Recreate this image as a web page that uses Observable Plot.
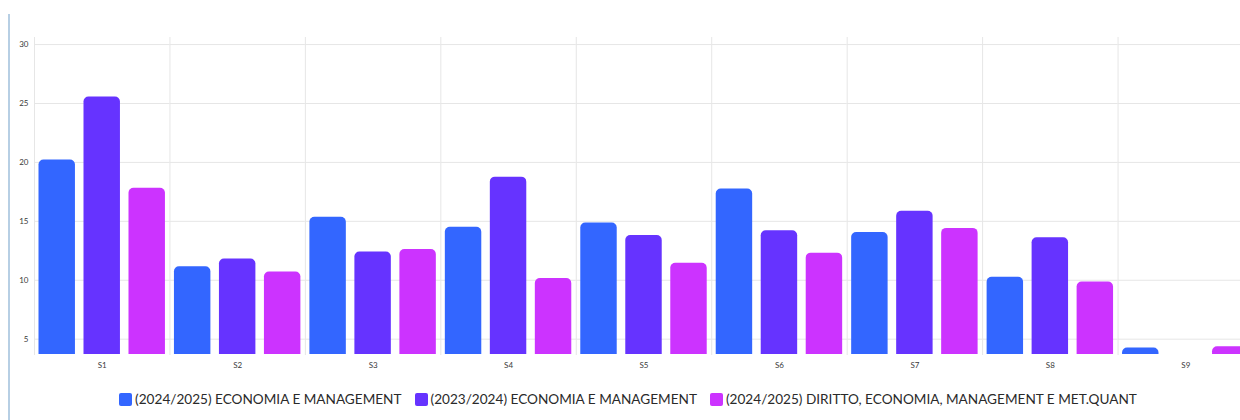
<!DOCTYPE html>
<html>
<head>
<meta charset="utf-8">
<script src="https://cdn.jsdelivr.net/npm/d3@7"></script>
<script src="https://cdn.jsdelivr.net/npm/@observablehq/plot@0.6"></script>
<style>
  html, body { margin: 0; padding: 0; background: #fff; overflow: hidden; }
  #wrap { position: relative; width: 1256px; height: 420px; font-family: Lato, "Open Sans", sans-serif; }
  #edge { position: absolute; left: 8px; top: 14px; width: 2px; height: 406px; background: #b7cfe4; }
  #chart svg { display: block; }
  #legend { display: flex; justify-content: center; gap: 13px; margin-top: 15px; font-size: 13.6px; color: #2a2a2a; }
  .item { display: flex; align-items: center; gap: 3px; white-space: nowrap; }
  .sw { width: 13px; height: 13px; border-radius: 2px; display: inline-block; }
</style>
</head>
<body>
<div id="wrap">
  <div id="chart"></div>
  <div id="legend"></div>
  <div id="edge"></div>
</div>
<script>
const categories = ["S1", "S2", "S3", "S4", "S5", "S6", "S7", "S8", "S9"];
const series = [
  "(2024/2025) ECONOMIA E MANAGEMENT",
  "(2023/2024) ECONOMIA E MANAGEMENT",
  "(2024/2025) DIRITTO, ECONOMIA, MANAGEMENT E MET.QUANT"
];
const values2425EM  = [20.2, 11.15, 15.35, 14.5, 14.85, 17.75, 14.05, 10.25, 4.25];
const values2324EM  = [25.55, 11.8, 12.4, 18.75, 13.8, 14.2, 15.85, 13.6, null];
const values2425DEM = [17.8, 10.7, 12.6, 10.15, 11.45, 12.3, 14.4, 9.85, 4.35];
const colors = ["#3366ff", "#6633ff", "#cc33ff"];
const yTicks = [5, 10, 15, 20, 25, 30];
const yDomain = [3.7, 30.6];

const allValues = [values2425EM, values2324EM, values2425DEM];
const data = [];
categories.forEach((c, i) => {
  series.forEach((s, j) => {
    const v = allValues[j][i];
    if (v != null) data.push({cat: c, series: s, value: v});
  });
});

const chart = Plot.plot({
  width: 1256,
  height: 376,
  marginTop: 37,
  marginBottom: 22,
  marginLeft: 34,
  marginRight: 3,
  style: {fontFamily: "Lato, 'Open Sans', sans-serif", fontSize: "8px", color: "#3a3a3a", background: "#fff"},
  fx: {domain: categories, padding: 0, round: false, label: null, axis: "bottom", tickSize: 0, tickPadding: 8},
  x: {domain: series, axis: null, round: false, paddingInner: 0.19, paddingOuter: 0.1},
  y: {domain: yDomain, ticks: yTicks, tickSize: 0, tickPadding: 6, label: null},
  color: {domain: series, range: colors},
  marks: [
    Plot.frame({anchor: "left", stroke: "#e6e6e6"}),
    Plot.gridY(yTicks, {stroke: "#e6e6e6", strokeOpacity: 1}),
    Plot.barY(data, {fx: "cat", x: "series", y: "value", fill: "series", clip: true, rx: 5, ry: 5})
  ]
});
document.getElementById("chart").appendChild(chart);

const legend = document.getElementById("legend");
series.forEach((s, j) => {
  const item = document.createElement("div");
  item.className = "item";
  const sw = document.createElement("span");
  sw.className = "sw";
  sw.style.background = colors[j];
  const t = document.createElement("span");
  t.textContent = s;
  item.appendChild(sw);
  item.appendChild(t);
  legend.appendChild(item);
});
</script>
</body>
</html>
